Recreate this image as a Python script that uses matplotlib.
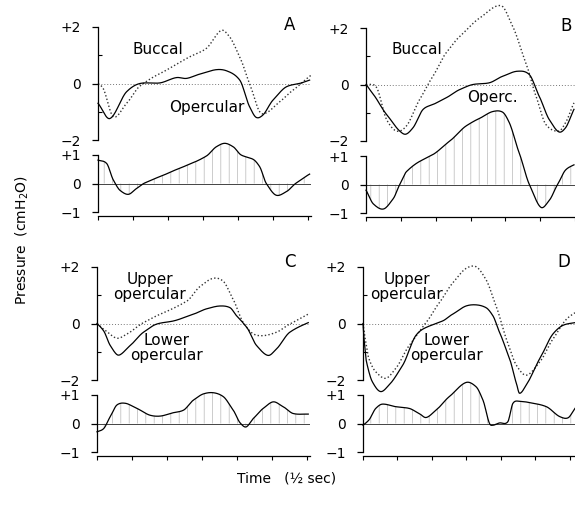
import matplotlib
matplotlib.use("Agg")
import matplotlib.pyplot as plt
import numpy as np

plt.rcParams['font.family'] = ['DejaVu Sans']
plt.rcParams['hatch.linewidth'] = 0.45

# ---------------- data (x in 1/2-sec ticks, y in cmH2O) ----------------
A_op_x = [0, 0.34, 0.82, 1.2, 1.77, 2.25, 2.53, 2.91, 3.39, 3.68, 4.06, 4.34, 4.53, 4.72, 5.01, 5.39, 5.77, 6.06]
A_op_y = [-0.7, -1.24, -0.29, 0.0, 0.02, 0.21, 0.18, 0.33, 0.49, 0.45, 0.12, -0.82, -1.2, -1.12, -0.59, -0.12, 0.0, 0.12]
A_bu_x = [0, 0.15, 0.44, 0.82, 1.2, 1.77, 2.72, 3.1, 3.53, 3.77, 4.06, 4.34, 4.63, 4.82, 5.2, 5.58, 6.1]
A_bu_y = [0, -0.18, -1.18, -0.7, -0.09, 0.35, 1.0, 1.24, 1.88, 1.65, 0.94, 0.0, -1.0, -1.04, -0.65, -0.24, 0.29]
A_df_x = [0, 0.25, 0.44, 0.63, 0.87, 1.1, 1.34, 1.77, 2.25, 2.72, 3.1, 3.39, 3.63, 3.87, 4.1, 4.44, 4.63, 4.82, 5.1, 5.39, 5.68, 6.06]
A_df_y = [0.82, 0.7, 0.12, -0.24, -0.38, -0.18, 0.02, 0.24, 0.49, 0.73, 0.96, 1.29, 1.41, 1.29, 1.0, 0.85, 0.59, 0.0, -0.41, -0.29, 0.02, 0.33]

B_bu_x = [0, 0.3, 0.59, 0.88, 1.16, 1.54, 1.92, 2.3, 2.69, 3.26, 3.88, 4.21, 4.59, 4.88, 5.16, 5.54, 5.73, 5.97]
B_bu_y = [0, -0.1, -1.24, -1.65, -1.47, -0.53, 0.29, 1.12, 1.7, 2.35, 2.79, 2.06, 0.76, -0.41, -1.41, -1.65, -1.35, -0.65]
B_op_x = [0, 0.21, 0.59, 0.97, 1.14, 1.35, 1.64, 1.92, 2.3, 2.69, 3.07, 3.54, 3.92, 4.35, 4.69, 4.97, 5.26, 5.54, 5.73, 5.97]
B_op_y = [0, -0.35, -1.06, -1.65, -1.76, -1.53, -0.88, -0.71, -0.47, -0.18, 0.0, 0.06, 0.29, 0.47, 0.35, -0.41, -1.24, -1.68, -1.53, -0.88]
B_df_x = [0, 0.21, 0.5, 0.78, 0.97, 1.16, 1.54, 1.92, 2.4, 2.88, 3.26, 3.64, 3.92, 4.11, 4.4, 4.69, 5.02, 5.26, 5.5, 5.73, 5.97]
B_df_y = [-0.2, -0.68, -0.86, -0.5, 0.0, 0.45, 0.81, 1.05, 1.52, 2.06, 2.32, 2.56, 2.54, 2.18, 1.1, 0.0, -0.8, -0.56, 0.0, 0.51, 0.69]

C_lo_x = [0, 0.19, 0.38, 0.57, 0.67, 0.95, 1.33, 1.71, 2.19, 2.76, 3.14, 3.52, 3.81, 4.0, 4.29, 4.57, 4.9, 5.14, 5.52, 6.05]
C_lo_y = [0, -0.26, -0.78, -1.1, -1.1, -0.78, -0.31, -0.02, 0.09, 0.33, 0.52, 0.62, 0.56, 0.27, -0.14, -0.78, -1.13, -0.9, -0.31, 0.03]
C_up_x = [0, 0.19, 0.57, 0.86, 1.33, 1.81, 2.57, 2.95, 3.33, 3.62, 3.9, 4.19, 4.48, 4.76, 5.14, 5.52, 6.05]
C_up_y = [0, -0.2, -0.52, -0.37, 0.03, 0.33, 0.79, 1.31, 1.6, 1.49, 0.85, 0.03, -0.37, -0.43, -0.31, -0.02, 0.33]
C_df_x = [0, 0.19, 0.38, 0.57, 0.81, 1.14, 1.52, 1.81, 2.19, 2.48, 2.76, 3.05, 3.33, 3.62, 3.9, 4.1, 4.27, 4.48, 4.76, 5.05, 5.33, 5.62, 6.05]
C_df_y = [-0.29, -0.18, 0.24, 0.65, 0.71, 0.53, 0.29, 0.26, 0.38, 0.47, 0.82, 1.04, 1.08, 0.94, 0.47, 0.02, -0.12, 0.18, 0.53, 0.76, 0.59, 0.35, 0.33]

D_lo_x = [0, 0.03, 0.1, 0.27, 0.51, 0.76, 1.15, 1.53, 1.83, 2.31, 2.6, 2.99, 3.28, 3.57, 3.77, 3.96, 4.25, 4.45, 4.54, 4.74, 5.13, 5.51, 5.81, 6.15]
D_lo_y = [0, -0.55, -1.35, -2.06, -2.41, -2.17, -1.48, -0.43, -0.14, 0.09, 0.33, 0.62, 0.66, 0.56, 0.27, -0.31, -1.24, -2.12, -2.47, -2.17, -1.24, -0.37, -0.06, 0.03]
D_up_x = [0, 0.05, 0.17, 0.37, 0.66, 0.95, 1.34, 1.83, 2.21, 2.6, 2.99, 3.28, 3.57, 3.86, 4.16, 4.45, 4.74, 5.13, 5.51, 5.9, 6.15]
D_up_y = [0, -0.45, -1.24, -1.71, -1.94, -1.59, -0.78, 0.03, 0.73, 1.43, 1.95, 2.01, 1.55, 0.62, -0.55, -1.48, -1.83, -1.36, -0.55, 0.15, 0.38]
D_df_x = [0, 0.17, 0.37, 0.56, 0.95, 1.34, 1.63, 1.83, 2.12, 2.5, 2.99, 3.28, 3.48, 3.67, 3.77, 3.96, 4.2, 4.35, 4.54, 4.93, 5.32, 5.71, 5.95, 6.15]
D_df_y = [-0.06, 0.12, 0.53, 0.68, 0.59, 0.53, 0.35, 0.21, 0.47, 0.94, 1.44, 1.29, 0.82, 0.0, -0.06, 0.02, 0.06, 0.71, 0.78, 0.71, 0.59, 0.24, 0.2, 0.53]

top_yticks = [2, 0, -2]
top_yticklabels = ['+2', '0', '\u22122']
bot_yticks = [1, 0, -1]
bot_yticklabels = ['+1', '0', '\u22121']
time_ticks = [0, 1, 2, 3, 4, 5, 6]

W, H = 575, 519
fig = plt.figure(figsize=(W / 100, H / 100), dpi=100)


def px_axes(left, top, width, height):
    return fig.add_axes([left / W, 1 - (top + height) / H, width / W, height / H])


def smooth(x, y, n=400):
    """Cardinal cubic through the read-off points."""
    x = np.asarray(x, float)
    y = np.asarray(y, float)
    h = np.diff(x)
    m = np.zeros_like(y)
    m[1:-1] = (y[2:] - y[:-2]) / (x[2:] - x[:-2])
    m[0] = (y[1] - y[0]) / h[0]
    m[-1] = (y[-1] - y[-2]) / h[-1]
    m *= 0.85
    xs = np.linspace(x[0], x[-1], n)
    idx = np.clip(np.searchsorted(x, xs) - 1, 0, len(x) - 2)
    t = (xs - x[idx]) / h[idx]
    h00 = 2 * t**3 - 3 * t**2 + 1
    h10 = t**3 - 2 * t**2 + t
    h01 = -2 * t**3 + 3 * t**2
    h11 = t**3 - t**2
    ys = h00 * y[idx] + h10 * h[idx] * m[idx] + h01 * y[idx + 1] + h11 * h[idx] * m[idx + 1]
    return xs, ys


def panel(left, top, xmax, width, solid, dotted, diff, letter, letter_xy, texts, th=113):
    ax = px_axes(left, top, width, th)
    ax.set_xlim(0, xmax)
    ax.set_ylim(-2, 2)
    for s in ['top', 'right', 'bottom']:
        ax.spines[s].set_visible(False)
    ax.spines['left'].set_bounds(-2, 2)
    ax.spines['left'].set_linewidth(0.9)
    ax.set_xticks([])
    ax.set_yticks(top_yticks)
    ax.set_yticklabels(top_yticklabels, fontsize=10)
    ax.set_yticks([1, -1], minor=True)
    ax.tick_params(axis='y', which='major', direction='out', length=4, width=0.9, pad=8)
    ax.tick_params(axis='y', which='minor', direction='in', length=3, width=0.8)
    ax.axhline(0, color='#777777', lw=0.7, ls=(0, (1, 2)))
    xs, ys = smooth(*dotted)
    ax.plot(xs, ys, color='#333333', lw=1.0, ls=(0, (1, 1.6)), clip_on=False)
    xs, ys = smooth(*solid)
    ax.plot(xs, ys, color='black', lw=0.9, clip_on=False)
    ax.text(letter_xy[0], letter_xy[1], letter, fontsize=12, ha='center', va='center')
    for (tx, ty, s) in texts:
        ax.text(tx, ty, s, fontsize=11, ha='center', va='center', linespacing=1.0)

    bx = px_axes(left, top + th + 15, width, 61)
    bx.set_xlim(0, xmax)
    bx.set_ylim(-1.14, 1)
    for s in ['top', 'right']:
        bx.spines[s].set_visible(False)
    bx.spines['left'].set_bounds(-1, 1)
    bx.spines['left'].set_linewidth(0.9)
    bx.spines['bottom'].set_linewidth(0.9)
    bx.set_yticks(bot_yticks)
    bx.set_yticklabels(bot_yticklabels, fontsize=10)
    bx.set_xticks(time_ticks)
    bx.set_xticklabels([])
    bx.tick_params(axis='y', direction='out', length=4, width=0.9, pad=8)
    bx.tick_params(axis='x', direction='out', length=3, width=0.8)
    bx.axhline(0, color='#444444', lw=0.7)
    xs, ys = smooth(*diff)
    bx.fill_between(xs, 0, ys, facecolor='none', edgecolor='#b0b0b0', hatch='||', lw=0, clip_on=False)
    bx.plot(xs, ys, color='black', lw=0.9, clip_on=False)


panel(98, 27, 6.1, 213, (A_op_x, A_op_y), (A_bu_x, A_bu_y), (A_df_x, A_df_y), 'A', (5.49, 2.07),
      [(1.71, 1.2, 'Buccal'), (3.11, -0.84, 'Opercular')])
panel(366, 28, 6.0, 209, (B_op_x, B_op_y), (B_bu_x, B_bu_y), (B_df_x, B_df_y), 'B', (5.73, 2.07),
      [(1.47, 1.23, 'Buccal'), (3.63, -0.46, 'Operc.')])
panel(97, 267, 6.1, 213, (C_lo_x, C_lo_y), (C_up_x, C_up_y), (C_df_x, C_df_y), 'C', (5.51, 2.17),
      [(1.51, 1.3, 'Upper\nopercular'), (2.0, -0.88, 'Lower\nopercular')])
panel(363, 267, 6.15, 212, (D_lo_x, D_lo_y), (D_up_x, D_up_y), (D_df_x, D_df_y), 'D', (5.82, 2.17),
      [(1.27, 1.3, 'Upper\nopercular'), (2.42, -0.88, 'Lower\nopercular')])

fig.text(22 / W, 1 - 240 / H, 'Pressure  (cmH$_2$O)', rotation=90, fontsize=10, ha='center', va='center')
fig.text(287 / W, 1 - 479 / H, 'Time   (\u00bd sec)', fontsize=10, ha='center', va='center')

fig.savefig('out.png', dpi=100)
